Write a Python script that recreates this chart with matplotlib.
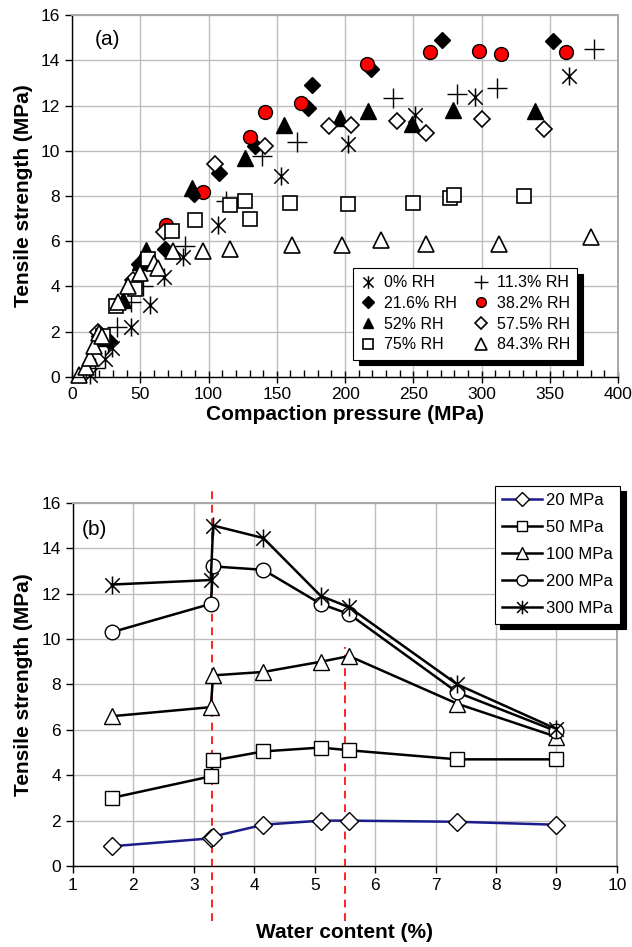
import numpy as np
import matplotlib
matplotlib.use("Agg")
from matplotlib import pyplot as plt
from matplotlib.path import Path
import matplotlib.ticker as mtick

plt.rcParams['font.family'] = ['Liberation Sans', 'DejaVu Sans']

# (a) прочность на разрыв от давления прессования, серии по влажности
rh0_p = [13, 24, 29, 43, 57, 67, 81, 107, 153, 202, 251, 295, 364]
rh0_t = [0.1, 0.8, 1.3, 2.2, 3.2, 4.4, 5.3, 6.7, 8.9, 10.3, 11.6, 12.4, 13.3]

rh11_p = [17, 26, 33, 43, 52, 83, 113, 139, 165, 235, 282, 311, 382]
rh11_t = [0.4, 1.5, 2.2, 3.3, 4.0, 5.8, 7.8, 9.75, 10.4, 12.35, 12.5, 12.8, 14.5]

rh21_p = [20, 27, 49, 68, 89, 108, 134, 173, 176, 219, 271, 352]
rh21_t = [1.8, 1.6, 5.0, 5.65, 8.1, 9.0, 10.2, 11.9, 12.9, 13.6, 14.9, 14.85]

rh38_p = [69, 96, 130, 141, 168, 216, 262, 298, 314, 362]
rh38_t = [6.7, 8.2, 10.6, 11.7, 12.1, 13.85, 14.35, 14.4, 14.3, 14.35]

rh52_p = [20, 37, 50, 54, 88, 127, 155, 196, 217, 249, 279, 339]
rh52_t = [1.7, 3.4, 5.1, 5.6, 8.35, 9.7, 11.15, 11.45, 11.75, 11.2, 11.8, 11.75]

rh57_p = [19, 45, 67, 105, 141, 188, 204, 238, 259, 300, 346]
rh57_t = [2.0, 4.3, 6.4, 9.4, 10.2, 11.1, 11.15, 11.3, 10.8, 11.4, 10.95]

rh75_p = [23, 32, 46, 56, 73, 90, 116, 127, 130, 160, 202, 250, 277, 280, 331]
rh75_t = [1.8, 3.15, 3.9, 5.2, 6.45, 6.95, 7.6, 7.8, 7.0, 7.7, 7.65, 7.7, 7.9, 8.05, 8.0]

rh84_p = [5, 10, 13, 16, 20, 22, 34, 41, 50, 60, 63, 74, 96, 116, 161, 198, 226, 259, 313, 380]
rh84_t = [0.1, 0.45, 0.85, 1.35, 1.95, 1.8, 3.3, 4.0, 4.6, 5.05, 4.8, 5.55, 5.55, 5.65,
          5.85, 5.85, 6.05, 5.9, 5.9, 6.2]

rh_labels = ['0% RH', '11.3% RH', '21.6% RH', '38.2% RH',
             '52% RH', '57.5% RH', '75% RH', '84.3% RH']

# (b) прочность от влажности, серии по давлению
wc = [1.64, 3.28, 3.32, 4.15, 5.1, 5.57, 7.36, 8.99]
s20 = [0.87, 1.22, 1.3, 1.82, 2.0, 2.0, 1.95, 1.82]
s50 = [3.0, 3.95, 4.65, 5.05, 5.22, 5.1, 4.7, 4.7]
s100 = [6.6, 7.0, 8.4, 8.55, 9.0, 9.25, 7.15, 5.7]
s200 = [10.3, 11.55, 13.2, 13.05, 11.55, 11.1, 7.65, 5.95]
s300 = [12.4, 12.6, 15.0, 14.45, 11.9, 11.4, 8.0, 6.05]
p_labels = ['20 MPa', '50 MPa', '100 MPa', '200 MPa', '300 MPa']

# пунктирные границы по влажности: x, низ, верх
vl_x = [3.3, 5.5]
vl_top = [16.65, 9.65]
vl_bottom = -2.4

# маркер "звёздочка": крест + вертикаль
star = Path([(0, -1), (0, 1), (-0.8, -0.8), (0.8, 0.8), (-0.8, 0.8), (0.8, -0.8)],
            [Path.MOVETO, Path.LINETO] * 3)

grid_c = '#bdbdbd'
fig = plt.figure(figsize=(6.32, 9.47), dpi=100)

ax1 = fig.add_axes([0.114, 0.602, 0.864, 0.382])
ax2 = fig.add_axes([0.1155, 0.0855, 0.8605, 0.3835])

def style_axes(ax):
    ax.grid(True, color=grid_c, lw=1.0)
    ax.set_axisbelow(True)
    for s in ('top', 'right'):
        ax.spines[s].set_color('#a8a8a8')
        ax.spines[s].set_linewidth(1.4)
    for s in ('left', 'bottom'):
        ax.spines[s].set_color('black')
        ax.spines[s].set_linewidth(1.0)
    ax.tick_params(labelsize=12.5, color='black', length=5, width=1)

#Рисуем график (a)
series = [
    (rh0_p, rh0_t, dict(marker=star, ms=13, mfc='none', mec='black', mew=1.1)),
    (rh11_p, rh11_t, dict(marker='+', ms=14, mec='black', mew=1.0)),
    (rh21_p, rh21_t, dict(marker='D', ms=8.5, mfc='black', mec='black', mew=1.0)),
    (rh38_p, rh38_t, dict(marker='o', ms=10, mfc='#ff0000', mec='black', mew=1.0)),
    (rh52_p, rh52_t, dict(marker='^', ms=11, mfc='black', mec='black', mew=1.0)),
    (rh57_p, rh57_t, dict(marker='D', ms=8.5, mfc='white', mec='black', mew=1.2)),
    (rh75_p, rh75_t, dict(marker='s', ms=9.5, mfc='white', mec='black', mew=1.2)),
    (rh84_p, rh84_t, dict(marker='^', ms=11.5, mfc='white', mec='black', mew=1.2)),
]
handles = []
for (p, t, kw), lab in zip(series, rh_labels):
    h, = ax1.plot(p, t, ls='none', label=lab, clip_on=False, **kw)
    handles.append(h)

style_axes(ax1)
ax1.set_xlim(0, 400)
ax1.set_ylim(0, 16)
ax1.xaxis.set_major_locator(mtick.MultipleLocator(50))
ax1.xaxis.set_minor_locator(mtick.MultipleLocator(10))
ax1.yaxis.set_major_locator(mtick.MultipleLocator(2))
ax1.tick_params(axis='x', which='major', direction='inout', length=8)
ax1.tick_params(axis='x', which='minor', direction='in', length=5, width=1)
ax1.set_xlabel('Compaction pressure (MPa)', fontsize=15, fontweight='bold', labelpad=2)
ax1.set_ylabel('Tensile strength (MPa)', fontsize=15, fontweight='bold', labelpad=6)
ax1.text(0.042, 0.934, '(a)', transform=ax1.transAxes, fontsize=15, va='center')

order = [0, 2, 4, 6, 1, 3, 5, 7]
leg1 = ax1.legend([handles[i] for i in order], [rh_labels[i] for i in order],
                  ncol=2, loc='upper left', bbox_to_anchor=(0.5585, 0.717),
                  bbox_transform=fig.transFigure, borderaxespad=0,
                  fontsize=11.5, markerscale=0.7, handlelength=1.0, handletextpad=0.5,
                  columnspacing=1.0, labelspacing=0.36, borderpad=0.45,
                  fancybox=False, framealpha=1, edgecolor='black',
                  shadow={'color': 'black', 'alpha': 1, 'ox': 4, 'oy': -4})
leg1.get_frame().set_linewidth(0.8)

#Рисуем график (b)
lines_b = [
    (s20, dict(color='#1c1c8c', marker='D', ms=9, mfc='white', mec='black', mew=1.0)),
    (s50, dict(color='black', marker='s', ms=10.5, mfc='white', mec='black', mew=1.0)),
    (s100, dict(color='black', marker='^', ms=11.5, mfc='white', mec='black', mew=1.0)),
    (s200, dict(color='black', marker='o', ms=10.5, mfc='white', mec='black', mew=1.0)),
    (s300, dict(color='black', marker=star, ms=13, mfc='none', mec='black', mew=1.1)),
]
for (vals, kw), lab in zip(lines_b, p_labels):
    ax2.plot(wc, vals, lw=1.8, label=lab, **kw)

for x, top in zip(vl_x, vl_top):
    ax2.plot([x, x], [vl_bottom, top], color='#ff2020', lw=1.4, ls=(0, (4, 3)),
             clip_on=False, zorder=1.5)

style_axes(ax2)
ax2.set_xlim(1, 10)
ax2.set_ylim(0, 16)
ax2.xaxis.set_major_locator(mtick.MultipleLocator(1))
ax2.yaxis.set_major_locator(mtick.MultipleLocator(2))
ax2.set_xlabel('Water content (%)', fontsize=15, fontweight='bold', labelpad=22)
ax2.set_ylabel('Tensile strength (MPa)', fontsize=15, fontweight='bold', labelpad=6)
ax2.text(0.016, 0.926, '(b)', transform=ax2.transAxes, fontsize=15, va='center')

leg2 = ax2.legend(loc='upper left', bbox_to_anchor=(0.783, 0.487),
                  bbox_transform=fig.transFigure, borderaxespad=0,
                  fontsize=12, markerscale=0.75, handlelength=2.4, handletextpad=0.2,
                  labelspacing=0.72, borderpad=0.45,
                  fancybox=False, framealpha=1, edgecolor='black',
                  shadow={'color': 'black', 'alpha': 1, 'ox': 4, 'oy': -4})
leg2.get_frame().set_linewidth(0.8)

fig.savefig('out.png', dpi=100)
